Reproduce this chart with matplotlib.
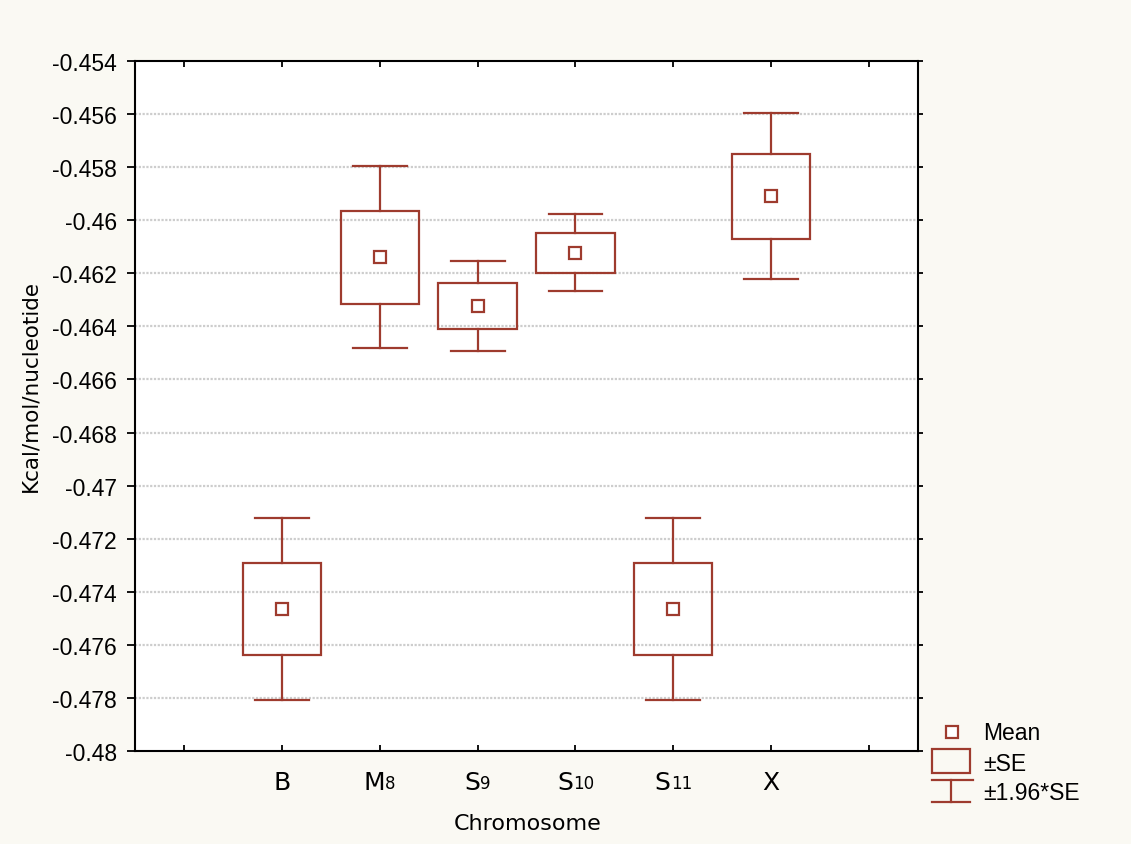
import matplotlib
matplotlib.use("Agg")
import matplotlib.pyplot as plt
import matplotlib.transforms as mtransforms
from matplotlib.patches import Rectangle
import numpy as np

cat_base = ["B", "M", "S", "S", "S", "X"]
cat_sub = ["", "8", "9", "10", "11", ""]
means = [-0.47465, -0.46139, -0.46323, -0.46123, -0.47465, -0.45909]
se = [0.00175, 0.00175, 0.00087, 0.00074, 0.00175, 0.00160]
y_ticks = [-0.454, -0.456, -0.458, -0.46, -0.462, -0.464, -0.466, -0.468,
           -0.47, -0.472, -0.474, -0.476, -0.478, -0.48]
y_ticklabels = ["-0.454", "-0.456", "-0.458", "-0.46", "-0.462", "-0.464", "-0.466",
                "-0.468", "-0.47", "-0.472", "-0.474", "-0.476", "-0.478", "-0.48"]
legend_labels = ["Mean", "\u00b1SE", "\u00b11.96*SE"]

col = "#9e3b2e"
bg = "#faf9f3"

fig = plt.figure(figsize=(11.31, 8.45), dpi=100, facecolor=bg)
ax = fig.add_axes([0.1194, 0.1101, 0.6923, 0.8165])
ax.set_facecolor("white")

xpos = np.arange(1, len(means) + 1)
box_w = 0.8
cap_w = 0.55
for x, m, s in zip(xpos, means, se):
    lo1, hi1 = m - s, m + s
    lo2, hi2 = m - 1.96 * s, m + 1.96 * s
    ax.add_patch(Rectangle((x - box_w / 2, lo1), box_w, hi1 - lo1, fill=False,
                           edgecolor=col, lw=1.6, zorder=3))
    ax.plot([x, x], [hi1, hi2], color=col, lw=1.6, zorder=3)
    ax.plot([x, x], [lo1, lo2], color=col, lw=1.6, zorder=3)
    ax.plot([x - cap_w / 2, x + cap_w / 2], [hi2, hi2], color=col, lw=1.6, zorder=3)
    ax.plot([x - cap_w / 2, x + cap_w / 2], [lo2, lo2], color=col, lw=1.6, zorder=3)
ax.plot(xpos, means, linestyle="none", marker="s", markersize=9,
        markerfacecolor="white", markeredgecolor=col, markeredgewidth=1.6, zorder=4)

ax.set_xlim(-0.5, 7.5)
ax.set_ylim(-0.48, -0.454)
ax.set_yticks(y_ticks)
ax.set_yticklabels(y_ticklabels, fontfamily="Liberation Sans", fontsize=16.5)
ax.set_xticks(np.arange(0, 8))
ax.set_xticklabels([])

for t in y_ticks[1:-1]:
    ax.axhline(t, color="#cdcdcd", lw=1.6, linestyle=(0, (1, 0.7)), zorder=1)

for sp in ax.spines.values():
    sp.set_linewidth(1.5)
    sp.set_color("black")

ax.tick_params(axis="y", left=True, right=True, direction="out",
               length=6, width=1.3, pad=7)
ax.tick_params(axis="x", bottom=True, top=True, direction="in", length=4.5,
               width=1.3)
for tk in ax.yaxis.get_major_ticks():
    tk.tick2line.set_markersize(3.5)

# category labels with baseline-level small index digits
main_fs = 18
sub_fs = 12
blend = mtransforms.blended_transform_factory(ax.transData, ax.transAxes)
for x, b, s in zip(xpos, cat_base, cat_sub):
    sw = 0.636 * sub_fs * len(s)
    off = mtransforms.ScaledTranslation(-sw / 2 / 72, -27.5 / 72, fig.dpi_scale_trans)
    t = ax.text(x, 0, b, transform=blend + off, ha="center", va="baseline",
                fontsize=main_fs, fontfamily="DejaVu Sans")
    if s:
        ax.annotate(s, xy=(1, 0), xycoords=t, xytext=(0.0, 1.4),
                    textcoords="offset points", ha="left", va="bottom",
                    fontsize=sub_fs, fontfamily="DejaVu Sans")

ax.set_ylabel("Kcal/mol/nucleotide", fontsize=15.5)
ax.yaxis.set_label_coords(-0.134, 0.530)
ax.yaxis.label.set_va("center")
ax.set_xlabel("Chromosome", fontsize=16)
ax.xaxis.set_label_coords(0.502, -0.1045)
ax.xaxis.label.set_va("center")

# legend drawn in pixel coordinates of the figure
lax = fig.add_axes([0, 0, 1, 1], facecolor="none")
lax.set_xlim(0, 1131)
lax.set_ylim(845, 0)
lax.axis("off")
lax.plot([952], [733], marker="s", markersize=9, markerfacecolor="white",
         markeredgecolor=col, markeredgewidth=1.6, linestyle="none")
lax.add_patch(Rectangle((932, 750), 38, 24, fill=False, edgecolor=col, lw=1.6))
lax.plot([932, 973], [781, 781], color=col, lw=1.6)
lax.plot([932, 970], [803, 803], color=col, lw=1.6)
lax.plot([951, 951], [781, 803], color=col, lw=1.6)
for y, lab in zip([734, 765, 794], legend_labels):
    lax.text(983, y, lab, fontsize=16.5, fontfamily="Liberation Sans", va="center")

fig.savefig("out.png", dpi=100, facecolor=bg)
